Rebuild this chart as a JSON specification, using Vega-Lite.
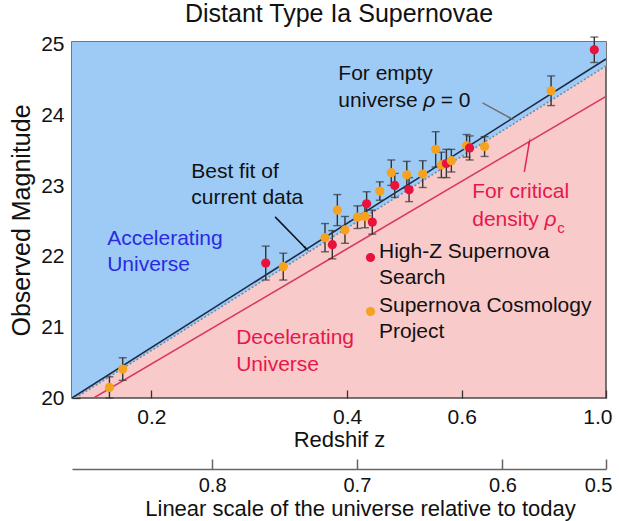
{
"$schema": "https://vega.github.io/schema/vega-lite/v6.json",
"width": 534,
"height": 356,
"autosize": {"type": "none"},
"padding": {"left": 72, "top": 42, "right": 13, "bottom": 123},
"title": {"text": "Distant Type Ia Supernovae", "fontSize": 25, "fontWeight": "normal", "color": "#111111", "offset": 7},
"config": {
  "font": "Liberation Sans",
  "view": {"fill": "#f9caca", "stroke": "#4a4a4a", "strokeWidth": 1.5},
  "axis": {"labelFontSize": 21, "titleFontSize": 22, "titleFontWeight": "normal", "labelColor": "#111111", "titleColor": "#111111", "tickColor": "#333333", "tickWidth": 1.3, "domainColor": "#555555", "grid": false, "zindex": 1},
  "style": {"guide-label": {"lineHeight": 26}}
},
"datasets": {
  "lines": [
    {"z": 0.151, "best": 20.0, "empty": 19.97, "crit": 19.82},
    {"z": 1.0, "best": 24.80, "empty": 24.70, "crit": 24.27}
  ],
  "sn": [
    {"src": "Supernova Cosmology Project", "z": 0.1724, "m": 20.15, "e": 0.15},
    {"src": "Supernova Cosmology Project", "z": 0.1807, "m": 20.41, "e": 0.16},
    {"src": "High-Z Supernova Search", "z": 0.2998, "m": 21.91, "e": 0.24},
    {"src": "Supernova Cosmology Project", "z": 0.3190, "m": 21.86, "e": 0.19},
    {"src": "Supernova Cosmology Project", "z": 0.3698, "m": 22.27, "e": 0.20},
    {"src": "High-Z Supernova Search", "z": 0.3795, "m": 22.17, "e": 0.20},
    {"src": "Supernova Cosmology Project", "z": 0.3863, "m": 22.66, "e": 0.22},
    {"src": "Supernova Cosmology Project", "z": 0.3969, "m": 22.38, "e": 0.19},
    {"src": "Supernova Cosmology Project", "z": 0.4148, "m": 22.56, "e": 0.16},
    {"src": "Supernova Cosmology Project", "z": 0.4259, "m": 22.57, "e": 0.16},
    {"src": "High-Z Supernova Search", "z": 0.4285, "m": 22.75, "e": 0.17},
    {"src": "High-Z Supernova Search", "z": 0.4372, "m": 22.49, "e": 0.17},
    {"src": "Supernova Cosmology Project", "z": 0.4490, "m": 22.93, "e": 0.13},
    {"src": "Supernova Cosmology Project", "z": 0.4676, "m": 23.19, "e": 0.18},
    {"src": "High-Z Supernova Search", "z": 0.4734, "m": 23.01, "e": 0.17},
    {"src": "Supernova Cosmology Project", "z": 0.4940, "m": 23.16, "e": 0.19},
    {"src": "High-Z Supernova Search", "z": 0.4980, "m": 22.95, "e": 0.17},
    {"src": "Supernova Cosmology Project", "z": 0.5227, "m": 23.17, "e": 0.19},
    {"src": "Supernova Cosmology Project", "z": 0.5472, "m": 23.52, "e": 0.25},
    {"src": "Supernova Cosmology Project", "z": 0.5583, "m": 23.30, "e": 0.18},
    {"src": "High-Z Supernova Search", "z": 0.5683, "m": 23.32, "e": 0.20},
    {"src": "Supernova Cosmology Project", "z": 0.5784, "m": 23.36, "e": 0.16},
    {"src": "Supernova Cosmology Project", "z": 0.6105, "m": 23.57, "e": 0.16},
    {"src": "High-Z Supernova Search", "z": 0.6170, "m": 23.54, "e": 0.17},
    {"src": "Supernova Cosmology Project", "z": 0.6506, "m": 23.56, "e": 0.14},
    {"src": "Supernova Cosmology Project", "z": 0.8233, "m": 24.35, "e": 0.21},
    {"src": "High-Z Supernova Search", "z": 0.9594, "m": 24.93, "e": 0.18}
  ],
  "notes": [
    {"g": "black", "z": 0.3877, "m": 24.59, "t": "For empty"},
    {"g": "black", "z": 0.3877, "m": 24.21, "t": "universe"},
    {"g": "blackital", "z": 0.5236, "m": 24.21, "t": "ρ"},
    {"g": "black", "z": 0.5569, "m": 24.21, "t": "= 0"},
    {"g": "black", "z": 0.2303, "m": 23.20, "t": "Best fit of"},
    {"g": "black", "z": 0.2303, "m": 22.825, "t": "current data"},
    {"g": "red", "z": 0.6228, "m": 22.918, "t": "For critical"},
    {"g": "red", "z": 0.6228, "m": 22.518, "t": "density"},
    {"g": "redital", "z": 0.8042, "m": 22.518, "t": "ρ"},
    {"g": "redsub", "z": 0.8529, "m": 22.40, "t": "c"},
    {"g": "red", "z": 0.2700, "m": 20.844, "t": "Decelerating"},
    {"g": "red", "z": 0.2700, "m": 20.467, "t": "Universe"},
    {"g": "blue", "z": 0.1710, "m": 22.245, "t": "Accelerating"},
    {"g": "blue", "z": 0.1710, "m": 21.881, "t": "Universe"}
  ],
  "arrows": [
    {"a": "empty", "z": 0.6459, "m": 24.177, "z2": 0.7146, "m2": 23.956},
    {"a": "best", "z": 0.3099, "m": 22.564, "z2": 0.3457, "m2": 22.117},
    {"a": "crit", "z": 0.7489, "m": 23.201, "z2": 0.7624, "m2": 23.625}
  ]
},
"resolve": {"axis": {"x": "independent"}, "scale": {"color": "independent"}},
"layer": [
  {
    "data": {"name": "lines"},
    "mark": {"type": "area", "color": "#9ecbf6", "opacity": 1, "clip": true},
    "encoding": {
      "x": {"field": "z", "type": "quantitative",
        "scale": {"type": "log", "domain": [0.151, 1.0], "nice": false},
        "axis": {"orient": "bottom", "values": [0.2, 0.4, 0.6, 1.0], "format": ".1f", "tickSize": -8, "labelPadding": 16, "title": "Redshif z", "titlePadding": 2, "domain": false, "labelFlush": true, "labelFlushOffset": 6}},
      "y": {"field": "empty", "type": "quantitative", "title": "Observed Magnitude",
        "scale": {"domain": [20, 25.04], "nice": false, "zero": false},
        "axis": {"values": [20, 21, 22, 23, 24, 25], "format": "d", "tickSize": -8, "labelPadding": 16, "titlePadding": 6, "titleFontSize": 25, "domain": false}},
      "y2": {"datum": 25.04}
    }
  },
  {
    "data": {"name": "lines"},
    "mark": {"type": "line", "color": "#d8385e", "strokeWidth": 1.6, "clip": true},
    "encoding": {
      "x": {"field": "z", "type": "quantitative",
        "axis": {"orient": "bottom", "values": [0.248, 0.414, 0.693, 1.0], "labelExpr": "datum.value < 0.3 ? '0.8' : datum.value < 0.5 ? '0.7' : datum.value < 0.8 ? '0.6' : '0.5'", "labelFontSize": 20, "tickSize": -10, "labelPadding": 16, "offset": 71, "title": "Linear scale of the universe relative to today", "titleFontSize": 22, "titleX": 288, "titleAlign": "center", "titlePadding": 3, "domain": true, "domainColor": "#666666", "domainWidth": 1.5, "tickColor": "#666666", "tickWidth": 1.5, "labelFlush": true, "labelFlushOffset": 6}},
      "y": {"field": "crit", "type": "quantitative", "title": "Observed Magnitude"}
    }
  },
  {
    "data": {"name": "lines"},
    "mark": {"type": "line", "color": "#6f8fa8", "strokeWidth": 1.6, "strokeDash": [2, 2], "clip": true},
    "encoding": {
      "x": {"field": "z", "type": "quantitative", "axis": null},
      "y": {"field": "empty", "type": "quantitative", "title": "Observed Magnitude"}
    }
  },
  {
    "data": {"name": "lines"},
    "mark": {"type": "line", "color": "#1c2b45", "strokeWidth": 1.6, "clip": true},
    "encoding": {
      "x": {"field": "z", "type": "quantitative", "axis": null},
      "y": {"field": "best", "type": "quantitative", "title": "Observed Magnitude"}
    }
  },
  {
    "data": {"name": "sn"},
    "mark": {"type": "errorbar", "color": "#333333", "thickness": 1.4, "ticks": {"size": 8, "thickness": 1.4}},
    "encoding": {
      "x": {"field": "z", "type": "quantitative", "axis": null},
      "y": {"field": "m", "type": "quantitative", "title": "Observed Magnitude"},
      "yError": {"field": "e"}
    }
  },
  {
    "data": {"name": "sn"},
    "mark": {"type": "point", "filled": true, "opacity": 1, "size": 85},
    "encoding": {
      "x": {"field": "z", "type": "quantitative", "axis": null},
      "y": {"field": "m", "type": "quantitative", "title": "Observed Magnitude"},
      "color": {"field": "src", "type": "nominal",
        "scale": {"domain": ["High-Z Supernova Search", "Supernova Cosmology Project"], "range": ["#e8123c", "#f5a21e"]},
        "legend": {"orient": "none", "legendX": 288, "legendY": 205, "title": null, "labelFontSize": 21, "labelColor": "#111111", "labelBaseline": "alphabetic", "labelOffset": -2, "rowPadding": 6, "labelLimit": 0, "symbolSize": 85, "symbolType": "circle", "symbolStrokeWidth": 0,
          "labelExpr": "datum.label == 'High-Z Supernova Search' ? ['High-Z Supernova', 'Search'] : ['Supernova Cosmology', 'Project']"}}
    }
  },
  {
    "data": {"name": "notes"},
    "transform": [{"filter": "datum.g == 'black'"}],
    "mark": {"type": "text", "align": "left", "baseline": "middle", "fontSize": 21, "color": "#111111"},
    "encoding": {
      "x": {"field": "z", "type": "quantitative", "axis": null},
      "y": {"field": "m", "type": "quantitative", "title": "Observed Magnitude"},
      "text": {"field": "t"}
    }
  },
  {
    "data": {"name": "notes"},
    "transform": [{"filter": "datum.g == 'blackital'"}],
    "mark": {"type": "text", "align": "left", "baseline": "middle", "fontSize": 21, "fontStyle": "italic", "color": "#111111"},
    "encoding": {
      "x": {"field": "z", "type": "quantitative", "axis": null},
      "y": {"field": "m", "type": "quantitative", "title": "Observed Magnitude"},
      "text": {"field": "t"}
    }
  },
  {
    "data": {"name": "notes"},
    "transform": [{"filter": "datum.g == 'red'"}],
    "mark": {"type": "text", "align": "left", "baseline": "middle", "fontSize": 21, "color": "#e8174a"},
    "encoding": {
      "x": {"field": "z", "type": "quantitative", "axis": null},
      "y": {"field": "m", "type": "quantitative", "title": "Observed Magnitude"},
      "text": {"field": "t"}
    }
  },
  {
    "data": {"name": "notes"},
    "transform": [{"filter": "datum.g == 'redital'"}],
    "mark": {"type": "text", "align": "left", "baseline": "middle", "fontSize": 21, "fontStyle": "italic", "color": "#e8174a"},
    "encoding": {
      "x": {"field": "z", "type": "quantitative", "axis": null},
      "y": {"field": "m", "type": "quantitative", "title": "Observed Magnitude"},
      "text": {"field": "t"}
    }
  },
  {
    "data": {"name": "notes"},
    "transform": [{"filter": "datum.g == 'redsub'"}],
    "mark": {"type": "text", "align": "center", "baseline": "middle", "fontSize": 15, "color": "#e8174a"},
    "encoding": {
      "x": {"field": "z", "type": "quantitative", "axis": null},
      "y": {"field": "m", "type": "quantitative", "title": "Observed Magnitude"},
      "text": {"field": "t"}
    }
  },
  {
    "data": {"name": "notes"},
    "transform": [{"filter": "datum.g == 'blue'"}],
    "mark": {"type": "text", "align": "left", "baseline": "middle", "fontSize": 21, "color": "#2a2ae0"},
    "encoding": {
      "x": {"field": "z", "type": "quantitative", "axis": null},
      "y": {"field": "m", "type": "quantitative", "title": "Observed Magnitude"},
      "text": {"field": "t"}
    }
  },
  {
    "data": {"name": "arrows"},
    "mark": {"type": "rule", "strokeWidth": 1.5},
    "encoding": {
      "x": {"field": "z", "type": "quantitative", "axis": null},
      "y": {"field": "m", "type": "quantitative", "title": "Observed Magnitude"},
      "x2": {"field": "z2"},
      "y2": {"field": "m2"},
      "color": {"field": "a", "type": "nominal", "scale": {"domain": ["empty", "best", "crit"], "range": ["#707070", "#111111", "#e0245e"]}, "legend": null}
    }
  },
  {
    "data": {"name": "arrows"},
    "transform": [{"filter": "datum.a == 'empty'"}],
    "mark": {"type": "point", "shape": "wedge", "filled": true, "opacity": 1, "size": 70, "angle": 118, "color": "#707070"},
    "encoding": {
      "x": {"field": "z2", "type": "quantitative", "axis": null},
      "y": {"field": "m2", "type": "quantitative", "title": "Observed Magnitude"}
    }
  },
  {
    "data": {"name": "arrows"},
    "transform": [{"filter": "datum.a == 'best'"}],
    "mark": {"type": "point", "shape": "wedge", "filled": true, "opacity": 1, "size": 70, "angle": 136, "color": "#111111"},
    "encoding": {
      "x": {"field": "z2", "type": "quantitative", "axis": null},
      "y": {"field": "m2", "type": "quantitative", "title": "Observed Magnitude"}
    }
  },
  {
    "data": {"name": "arrows"},
    "transform": [{"filter": "datum.a == 'crit'"}],
    "mark": {"type": "point", "shape": "wedge", "filled": true, "opacity": 1, "size": 70, "angle": 10, "color": "#e0245e"},
    "encoding": {
      "x": {"field": "z2", "type": "quantitative", "axis": null},
      "y": {"field": "m2", "type": "quantitative", "title": "Observed Magnitude"}
    }
  }
]
}
